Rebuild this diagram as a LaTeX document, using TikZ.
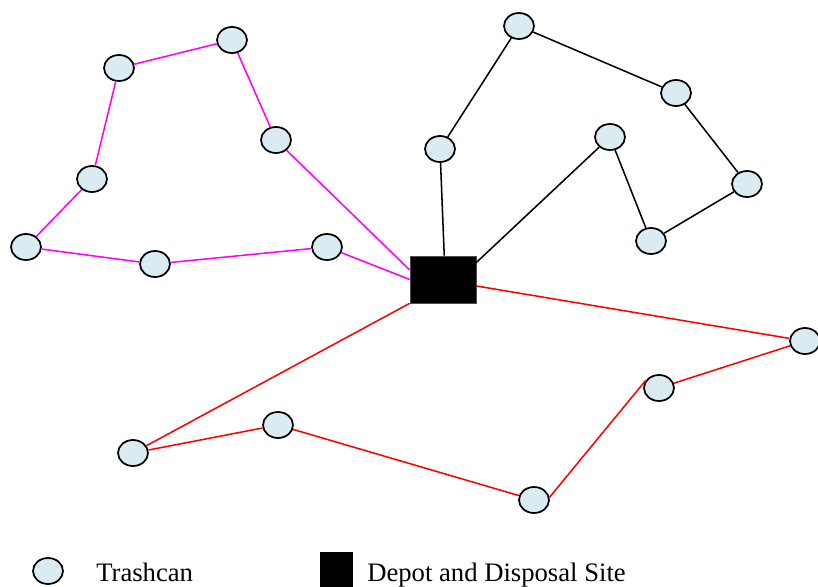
\documentclass[tikz,border=0pt]{standalone}
\usepackage{fontspec}
\setmainfont{Liberation Serif}
\usetikzlibrary{shapes.geometric}
\definecolor{canfill}{RGB}{218,236,242}
\definecolor{mag}{RGB}{255,0,255}
\definecolor{rd}{RGB}{255,0,0}
\begin{document}
\begin{tikzpicture}[x=0.75pt,y=-0.75pt,
  can/.style={ellipse,draw=black,fill=canfill,line width=1.3pt,minimum width=22.5pt,minimum height=19.5pt,inner sep=0pt},
  depot/.style={rectangle,fill=black,draw=black!70,line width=0.5pt,minimum width=49.5pt,minimum height=35.25pt,inner sep=0pt},
  magroute/.style={draw=mag,line width=1.15pt},
  blkroute/.style={draw=black,line width=1.15pt},
  redroute/.style={draw=rd,line width=1.15pt},
  legtext/.style={anchor=base west,inner sep=0pt,font=\fontsize{20pt}{24pt}\selectfont}
]
\useasboundingbox (0,0) rectangle (818,586);
% depot
\node[depot] (D) at (443,279.5) {};
% magenta route
\node[can] (a1) at (119,68) {};
\node[can] (a2) at (232,40) {};
\node[can] (a3) at (276,140) {};
\node[can] (a4) at (92,179) {};
\node[can] (a5) at (26,247) {};
\node[can] (a6) at (155,264) {};
\node[can] (a7) at (327,247) {};
% black route
\node[can] (b1) at (440,149) {};
\node[can] (b2) at (519,26) {};
\node[can] (b3) at (676,93) {};
\node[can] (b4) at (747,184) {};
\node[can] (b5) at (651,241) {};
\node[can] (b6) at (610,137) {};
% red route
\node[can] (c1) at (805,341) {};
\node[can] (c2) at (659,388) {};
\node[can] (c3) at (534,500) {};
\node[can] (c4) at (278,425) {};
\node[can] (c5) at (133,453) {};
% connectors
\draw[magroute] (D.180) -- (a7) -- (a6) -- (a5) -- (a4) -- (a1) -- (a2) -- (a3) -- (D.164);
\draw[blkroute] (D.87) -- (b1) -- (b2) -- (b3) -- (b4) -- (b5) -- (b6) -- (D.27);
\draw[redroute] (D.349) -- (c1) -- (c2);
\draw[redroute] (c2.150) -- (c3.10);
\draw[redroute] (c3) -- (c4) -- (c5) -- (D.south west);
% legend
\node[can] (lc) at (48,571) {};
\node[legtext] (lt1) at (96,581) {Trashcan};
\node[rectangle,fill=black,minimum width=24.75pt,minimum height=28.5pt,inner sep=0pt] (ld) at (336.5,571) {};
\node[legtext] (lt2) at (367,581) {Depot and Disposal Site};
\end{tikzpicture}
\end{document}
